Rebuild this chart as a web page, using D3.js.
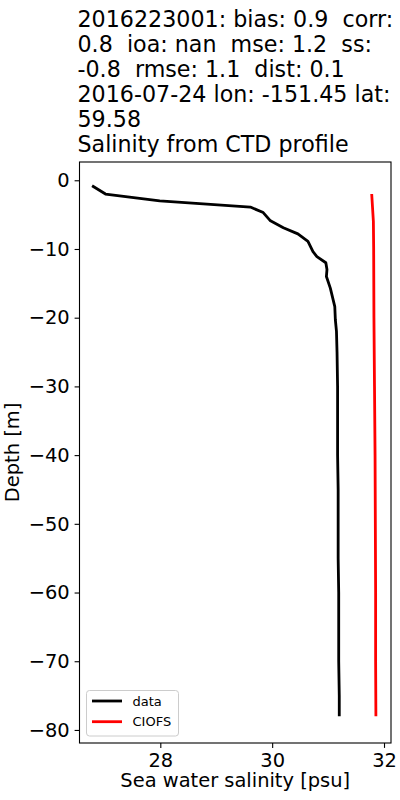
<!doctype html>
<html>
<head>
<meta charset="utf-8">
<script src="https://d3js.org/d3.v7.min.js"></script>
<style>
  body { margin: 0; background: #fff; }
  text { font-family: "DejaVu Sans", sans-serif; fill: #000; white-space: pre; }
</style>
</head>
<body>
<div id="chart"></div>
<script>
// title lines
const titleLines = [
  "2016223001: bias: 0.9  corr:",
  "0.8  ioa: nan  mse: 1.2  ss:",
  "-0.8  rmse: 1.1  dist: 0.1",
  "2016-07-24 lon: -151.45 lat:",
  "59.58",
  "Salinity from CTD profile"
];

// CTD observations (depth, salinity)
const dataDepth = [-0.8, -2, -3, -3.9, -4.7, -5.9, -6.9, -7.8, -8.9, -10.4, -11.1, -12, -13, -14, -15.7, -18.4, -20.3, -22, -25, -30, -35, -40, -45, -50, -55, -60, -65, -70, -75, -78];
const dataSal   = [26.78, 27.02, 27.99, 29.61, 29.84, 29.97, 30.20, 30.46, 30.64, 30.73, 30.80, 30.96, 30.98, 30.97, 31.04, 31.12, 31.13, 31.15, 31.16, 31.17, 31.17, 31.17, 31.18, 31.18, 31.18, 31.19, 31.19, 31.19, 31.20, 31.20];

// CIOFS model (depth, salinity)
const modelDepth = [-2, -6, -10, -20, -30, -40, -50, -60, -70, -78];
const modelSal   = [31.78, 31.81, 31.815, 31.82, 31.83, 31.84, 31.845, 31.85, 31.85, 31.855];

const xTicks = [28, 30, 32];
const yTicks = [0, -10, -20, -30, -40, -50, -60, -70, -80];

const legendItems = [
  { label: "data", color: "#000000" },
  { label: "CIOFS", color: "#ff0000" }
];

const W = 400, H = 800;
const m = { left: 79.5, right: 391, top: 162, bottom: 743 };

const svg = d3.select('#chart').append('svg')
  .attr('width', W).attr('height', H);

const x = d3.scaleLinear().domain([26.555, 32.125]).range([m.left, m.right]);
const y = d3.scaleLinear().domain([2.66, -81.9]).range([m.top, m.bottom]);

// title
const title = svg.append('text')
  .style('font-size', '22.2px');
titleLines.forEach((t, i) => {
  title.append('tspan').attr('x', 77.5).attr('y', 26.7 + i * 25).text(t);
});

// lines
const line = (depths, sals) => d3.line()
  .x((d, i) => x(sals[i]))
  .y(d => y(d))(depths);

svg.append('path')
  .attr('d', line(dataDepth, dataSal))
  .attr('fill', 'none').attr('stroke', '#000').attr('stroke-width', 2.8)
  .attr('stroke-linejoin', 'round');

svg.append('path')
  .attr('d', line(modelDepth, modelSal))
  .attr('fill', 'none').attr('stroke', '#ff0000').attr('stroke-width', 2.8)
  .attr('stroke-linejoin', 'round');

// axes
const fmt = d3.format('d');
const xAxis = svg.append('g')
  .attr('transform', `translate(0,${m.bottom})`)
  .call(d3.axisBottom(x).tickValues(xTicks).tickFormat(fmt).tickSizeInner(4.9).tickSizeOuter(0).tickPadding(4.9));
const yAxis = svg.append('g')
  .attr('transform', `translate(${m.left},0)`)
  .call(d3.axisLeft(y).tickValues(yTicks).tickFormat(fmt).tickSizeInner(4.9).tickSizeOuter(0).tickPadding(4.9));

[xAxis, yAxis].forEach(a => {
  a.select('.domain').remove();
  a.selectAll('line').attr('stroke', '#000').attr('stroke-width', 1.1);
  a.selectAll('text').style('font-size', '19.44px').attr('fill', '#000');
});

// frame
svg.append('rect')
  .attr('x', m.left).attr('y', m.top)
  .attr('width', m.right - m.left).attr('height', m.bottom - m.top)
  .attr('fill', 'none').attr('stroke', '#000').attr('stroke-width', 1.1);

// axis labels
svg.append('text')
  .attr('x', (m.left + m.right) / 2).attr('y', 787)
  .attr('text-anchor', 'middle').style('font-size', '19.44px')
  .text('Sea water salinity [psu]');

svg.append('text')
  .attr('transform', `translate(18.5,${(m.top + m.bottom) / 2}) rotate(-90)`)
  .attr('text-anchor', 'middle').style('font-size', '19.44px')
  .text('Depth [m]');

// legend
const lg = svg.append('g').attr('transform', 'translate(86.5,690.5)');
lg.append('rect')
  .attr('width', 92).attr('height', 45.5).attr('rx', 3)
  .attr('fill', '#fff').attr('fill-opacity', 0.8)
  .attr('stroke', '#ccc').attr('stroke-width', 1);
legendItems.forEach((d, i) => {
  const cy = 10.5 + i * 20.7;
  lg.append('line')
    .attr('x1', 5.5).attr('x2', 35.5).attr('y1', cy).attr('y2', cy)
    .attr('stroke', d.color).attr('stroke-width', 2.8);
  lg.append('text')
    .attr('x', 46).attr('y', cy).attr('dy', '0.35em')
    .style('font-size', '13px').text(d.label);
});
</script>
</body>
</html>
